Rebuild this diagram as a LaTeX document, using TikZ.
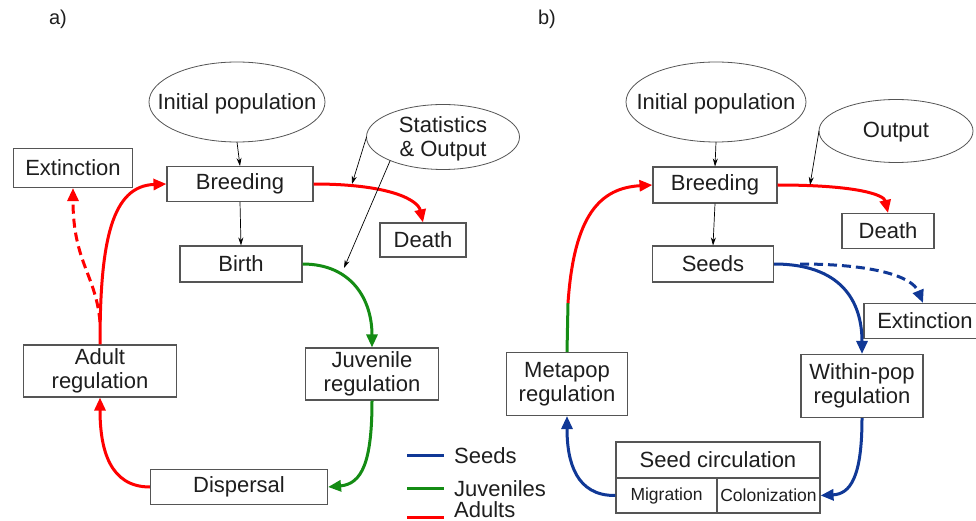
\documentclass[tikz,border=0pt]{standalone}
\usepackage{fontspec}
\setmainfont{Liberation Sans}
\usetikzlibrary{arrows.meta,shapes.geometric}
\definecolor{cred}{RGB}{255,0,0}
\definecolor{cgreen}{RGB}{20,140,20}
\definecolor{cblue}{RGB}{16,56,150}
\definecolor{txt}{RGB}{30,30,30}
\definecolor{bord}{RGB}{85,85,85}
\begin{document}
\begin{tikzpicture}[x=1pt,y=-1pt,
 box/.style={draw=bord,line width=1.1pt,rectangle,inner sep=0pt,text=txt,font=\fontsize{22}{24}\selectfont,align=center},
 ell/.style={draw=bord,line width=0.8pt,ellipse,inner sep=0pt,outer sep=0pt},
 small/.style={font=\fontsize{17.5}{20}\selectfont},
 thinarr/.style={draw=black,line width=0.7pt,-{Stealth[length=8pt,width=5pt]}},
 thickarr/.style={line width=3pt,-{Triangle[length=13pt,width=11pt]}},
 lbl/.style={text=txt,font=\fontsize{22}{24}\selectfont,inner sep=0pt,align=center},
 legt/.style={text=txt,font=\fontsize{22}{24}\selectfont,inner sep=0pt,anchor=base west},
]
\useasboundingbox (0,0) rectangle (976,521);
\fill[white] (0,0) rectangle (976,521);

% ---------------- panel a
\node[lbl,font=\fontsize{20}{22}\selectfont] (la) at (58,19) {a)};
\node[ell,minimum width=176pt,minimum height=80pt] (initA) at (237,102) {};
\node[lbl] (initAt) at ([yshift=-1.5pt]initA.center) {Initial population};
\node[ell,minimum width=153pt,minimum height=65pt] (statA) at (443,137) {};
\node[lbl] (statAt) at ([yshift=-1.5pt]statA.center) {Statistics\\\& Output};
\node[box,minimum width=119pt,minimum height=39pt] (extA) at (73,168) {Extinction};
\node[box,minimum width=146pt,minimum height=35pt] (breedA) at (240,184) {Breeding};
\node[box,minimum width=86pt,minimum height=34pt] (deathA) at (423,240) {Death};
\node[box,minimum width=122pt,minimum height=36pt] (birthA) at (241,264) {Birth};
\node[box,minimum width=153pt,minimum height=52pt] (adultA) at (100,371) {Adult\\regulation};
\node[box,minimum width=133pt,minimum height=52pt] (juvA) at (372,374) {Juvenile\\regulation};
\node[box,minimum width=177pt,minimum height=35pt] (dispA) at (239,487) {Dispersal};

\draw[thinarr] (initA.south) -- (breedA.north);
\draw[thinarr] (breedA.south) -- (birthA.north);
\draw[thickarr,cred] (breedA.east) .. controls (390,184) and (418,200) .. (deathA.north);
\draw[thickarr,cgreen] (birthA.east) .. controls (352,264) and (372,300) .. (juvA.north);
\draw[thickarr,cgreen] (juvA.south) .. controls (372,462) and (362,484) .. (dispA.east);
\draw[thickarr,cred] (dispA.west) .. controls (110,487) and (100,450) .. (adultA.south);
\draw[thickarr,cred] (adultA.north) .. controls (100,240) and (112,186) .. (breedA.west);
\coordinate (dashA) at (100,322);
\draw[thickarr,cred,dash pattern=on 9pt off 5pt] (dashA) .. controls (96,275) and (73,262) .. (extA.south);
\coordinate (sA1) at (352,184);
\coordinate (sA2) at (344,268);
\draw[thinarr] (statA.west) -- (sA1);
\draw[thinarr] (statA.204) -- (sA2);

% legend
\coordinate (lg1a) at (407,455); \coordinate (lg1b) at (444,455);
\coordinate (lg2a) at (407,488); \coordinate (lg2b) at (444,488);
\coordinate (lg3a) at (407,517); \coordinate (lg3b) at (444,517);
\draw[cblue,line width=3pt] (lg1a) -- (lg1b);
\draw[cgreen,line width=3pt] (lg2a) -- (lg2b);
\draw[cred,line width=3pt] (lg3a) -- (lg3b);
\node[legt] (lgt1) at (454,463) {Seeds};
\node[legt] (lgt2) at (454,496) {Juveniles};
\node[legt] (lgt3) at (454,517.5) {Adults};

% ---------------- panel b
\node[lbl,font=\fontsize{20}{22}\selectfont] (lb) at (547,19) {b)};
\node[ell,minimum width=180pt,minimum height=80pt] (initB) at (716,102) {};
\node[lbl] (initBt) at ([yshift=-1.5pt]initB.center) {Initial population};
\node[ell,minimum width=154pt,minimum height=63pt] (outB) at (896,131) {};
\node[lbl] (outBt) at ([yshift=-1.5pt]outB.center) {Output};
\node[box,minimum width=124pt,minimum height=36pt] (breedB) at (715,185) {Breeding};
\node[box,minimum width=92pt,minimum height=35pt] (deathB) at (888,231) {Death};
\node[box,minimum width=121pt,minimum height=36pt] (seedsB) at (713,264) {Seeds};
\node[box,minimum width=122pt,minimum height=35pt] (extB) at (925,321) {Extinction};
\node[box,minimum width=121pt,minimum height=63pt] (metaB) at (567,384) {Metapop\\regulation};
\node[box,minimum width=122pt,minimum height=63pt] (withinB) at (862,386) {Within-pop\\regulation};
\node[box,minimum width=204pt,minimum height=36pt] (circB) at (718,460) {Seed circulation};
\node[box,small,minimum width=101pt,minimum height=35pt] (migB) at (666.5,495.5) {Migration};
\node[box,small,minimum width=103pt,minimum height=35pt] (colB) at (768.5,495.5) {Colonization};

\draw[thinarr] (initB.south) -- (breedB.north);
\draw[thinarr] (breedB.south) -- (seedsB.north);
\draw[thickarr,cred] (breedB.east) .. controls (858,185) and (884,195) .. (deathB.north);
\coordinate (oB1) at (810,185);
\draw[thinarr] (outB.west) -- (oB1);
\draw[thickarr,cblue] (seedsB.east) .. controls (840,264) and (862,300) .. (withinB.north);
\coordinate (dashB) at (800,264);
\draw[thickarr,cblue,dash pattern=on 9pt off 5pt] (dashB) .. controls (872,264) and (912,276) .. (extB.north -| 923,0);
\draw[thickarr,cblue] (withinB.south) .. controls (862,478) and (850,494) .. (colB.east);
\draw[thickarr,cblue] (migB.west) .. controls (576,496) and (567,462) .. (metaB.south);
\coordinate (mixB) at (568,303);
\draw[cgreen,line width=3pt] (metaB.north) -- (mixB);
\draw[thickarr,cred] (mixB) .. controls (574,215) and (600,188) .. (breedB.west);
\end{tikzpicture}
\end{document}
